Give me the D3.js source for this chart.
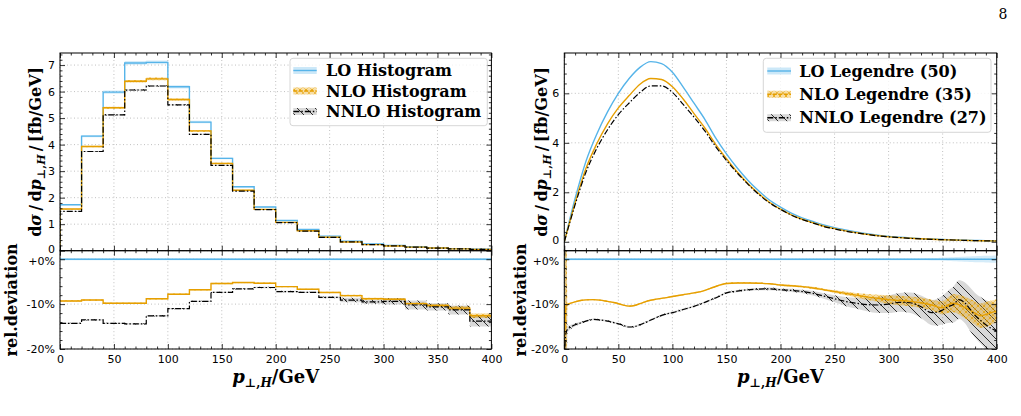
<!DOCTYPE html>
<html>
<head>
<meta charset="utf-8">
<script src="https://cdn.jsdelivr.net/npm/d3@7"></script>
<style>
  body { margin: 0; background: #fff; }
  svg text { font-family: "DejaVu Sans", sans-serif; }
  .tick text { font-family: "DejaVu Sans", sans-serif; font-size: 11px; fill: #000; }
  .lab { font-family: "DejaVu Serif", serif; font-weight: bold; font-size: 16px; }
  .leg { font-family: "DejaVu Serif", serif; font-weight: bold; font-size: 16px; }
</style>
</head>
<body>
<svg id="fig" width="1021" height="416"></svg>
<script>
(function(){

  // ---- histogram data (left) ----
  const binEdges = [0, 20, 40, 60, 80, 100, 120, 140, 160, 180, 200, 220, 240, 260, 280, 300, 320, 340, 360, 380, 400];
  const loHist   = [1.73, 4.32, 5.98, 7.08, 7.10, 6.18, 4.85, 3.48, 2.41, 1.65, 1.14, 0.80, 0.55, 0.36, 0.25, 0.20, 0.15, 0.11, 0.08, 0.055];
  const nloHist  = [1.57, 3.93, 5.39, 6.39, 6.48, 5.70, 4.52, 3.29, 2.28, 1.56, 1.07, 0.75, 0.51, 0.33, 0.23, 0.18, 0.135, 0.10, 0.07, 0.048];
  const nnloHist = [1.48, 3.74, 5.12, 6.06, 6.21, 5.50, 4.39, 3.22, 2.25, 1.55, 1.06, 0.74, 0.50, 0.33, 0.23, 0.18, 0.135, 0.098, 0.071, 0.047];
  // relative deviation to LO, percent
  const nloHistDev  = [-9.3, -9.1, -9.8, -9.8, -8.8, -7.8, -6.8, -5.4, -5.2, -5.35, -6.1, -6.7, -7.4, -8.1, -8.8, -8.9, -9.9, -10.3, -10.9, -12.6];
  const nnloHistDev = [-14.3, -13.5, -14.3, -14.4, -12.6, -11.0, -9.4, -7.4, -6.6, -6.3, -7.2, -7.4, -8.5, -9.1, -9.5, -9.4, -10.2, -10.6, -11.3, -13.8];
  // band half widths, percent
  const loHistErr   = [0.2, 0.2, 0.2, 0.2, 0.2, 0.2, 0.2, 0.2, 0.2, 0.2, 0.2, 0.2, 0.2, 0.2, 0.2, 0.2, 0.2, 0.2, 0.2, 0.25];
  const nloHistErr  = [0.15, 0.15, 0.15, 0.15, 0.15, 0.15, 0.15, 0.15, 0.15, 0.15, 0.15, 0.15, 0.15, 0.2, 0.2, 0.25, 0.25, 0.3, 0.4, 0.5];
  const nnloHistErr = [0.15, 0.15, 0.15, 0.15, 0.15, 0.15, 0.15, 0.15, 0.15, 0.15, 0.15, 0.15, 0.2, 0.5, 0.4, 0.7, 1.0, 0.8, 1.0, 1.2];

  // ---- Legendre curves (right) ----
  const legX    = [0, 10, 20, 30, 40, 50, 60, 70, 80, 90, 100, 110, 120, 130, 140, 150, 160, 170, 180, 190, 200, 210, 220, 230, 240, 250, 260, 270, 280, 290, 300, 310, 320, 330, 340, 350, 360, 370, 380, 390, 400];
  const loLeg   = [0, 1.75, 3.25, 4.35, 5.25, 6.0, 6.6, 7.05, 7.28, 7.2, 6.85, 6.25, 5.6, 4.95, 4.2, 3.55, 2.98, 2.48, 2.05, 1.68, 1.4, 1.16, 0.97, 0.82, 0.68, 0.57, 0.48, 0.4, 0.33, 0.27, 0.22, 0.19, 0.16, 0.13, 0.11, 0.095, 0.08, 0.065, 0.055, 0.045, 0.04];
  const nloLeg  = [0, 1.58, 2.96, 3.96, 4.77, 5.41, 5.91, 6.37, 6.6, 6.56, 6.27, 5.77, 5.18, 4.6, 3.94, 3.36, 2.82, 2.35, 1.94, 1.59, 1.32, 1.09, 0.91, 0.77, 0.63, 0.53, 0.44, 0.37, 0.3, 0.25, 0.2, 0.17, 0.145, 0.12, 0.1, 0.085, 0.072, 0.059, 0.049, 0.04, 0.035];
  const nnloLeg = [0, 1.5, 2.81, 3.77, 4.53, 5.14, 5.61, 6.03, 6.3, 6.3, 6.04, 5.55, 5.04, 4.48, 3.85, 3.29, 2.78, 2.32, 1.91, 1.57, 1.31, 1.08, 0.9, 0.76, 0.62, 0.52, 0.43, 0.36, 0.3, 0.24, 0.2, 0.17, 0.14, 0.115, 0.098, 0.084, 0.072, 0.058, 0.048, 0.038, 0.034];

  const devX    = [0, 1.5, 3, 6, 10, 15, 20, 27, 33, 40, 47, 53, 60, 65, 70, 77, 85, 93, 100, 110, 120, 128, 135, 142, 150, 160, 170, 180, 190, 200, 210, 220, 230, 240, 250, 260, 270, 280, 290, 300, 310, 320, 330, 340, 345, 350, 355, 360, 365, 370, 375, 380, 385, 390, 395, 400];
  const nloDev  = [-22, -10.4, -10.1, -9.8, -9.5, -9.2, -9.05, -9.0, -9.1, -9.4, -9.7, -10.1, -10.45, -10.3, -9.9, -9.3, -8.9, -8.6, -8.3, -7.9, -7.5, -7.1, -6.5, -5.9, -5.4, -5.3, -5.3, -5.35, -5.45, -5.75, -5.9, -6.1, -6.4, -6.8, -7.2, -7.6, -8.0, -8.4, -8.7, -9.0, -9.2, -9.4, -9.7, -10.2, -10.6, -10.8, -10.2, -9.8, -10.1, -10.7, -11.3, -12.0, -12.6, -12.3, -11.9, -11.5];
  const nnloDev = [-22, -16.5, -15.6, -15.1, -14.6, -14.2, -13.8, -13.4, -13.5, -13.8, -14.2, -14.6, -15.1, -15.0, -14.6, -13.9, -13.0, -12.3, -11.9, -11.2, -10.5, -9.8, -9.1, -8.4, -7.5, -7.1, -6.8, -6.65, -6.6, -6.8, -6.95, -7.2, -7.6, -8.2, -8.8, -9.4, -9.8, -10.1, -10.2, -10.0, -9.6, -9.7, -10.6, -11.9, -11.8, -11.3, -10.6, -10.1, -9.0, -9.6, -11.0, -12.5, -13.6, -14.6, -15.4, -16.0];
  const loErr   = [0.2, 0.2, 0.2, 0.2, 0.2, 0.2, 0.2, 0.2, 0.2, 0.2, 0.2, 0.2, 0.2, 0.2, 0.2, 0.2, 0.2, 0.2, 0.2, 0.2, 0.2, 0.2, 0.2, 0.2, 0.2, 0.2, 0.2, 0.2, 0.2, 0.2, 0.2, 0.2, 0.2, 0.2, 0.2, 0.2, 0.2, 0.2, 0.2, 0.2, 0.2, 0.22, 0.24, 0.26, 0.3, 0.35, 0.4, 0.45, 0.5, 0.55, 0.6, 0.65, 0.7, 0.75, 0.8, 0.85];
  const nloErr  = [30, 30, 0.2, 0.15, 0.15, 0.15, 0.15, 0.15, 0.15, 0.15, 0.15, 0.15, 0.15, 0.15, 0.15, 0.15, 0.15, 0.15, 0.15, 0.15, 0.15, 0.15, 0.15, 0.15, 0.15, 0.15, 0.15, 0.15, 0.15, 0.2, 0.2, 0.2, 0.25, 0.25, 0.3, 0.4, 0.5, 0.65, 0.8, 1.0, 1.05, 1.1, 1.15, 1.2, 1.35, 1.5, 1.75, 2.0, 2.2, 2.4, 2.5, 2.6, 2.7, 2.8, 2.7, 2.6];
  const nnloErr = [30, 30, 0.7, 0.5, 0.35, 0.25, 0.2, 0.2, 0.2, 0.2, 0.2, 0.2, 0.2, 0.2, 0.2, 0.2, 0.2, 0.2, 0.2, 0.2, 0.2, 0.2, 0.2, 0.2, 0.2, 0.25, 0.25, 0.25, 0.3, 0.3, 0.35, 0.4, 0.5, 0.6, 0.8, 1.0, 1.2, 1.5, 1.8, 2.0, 2.1, 2.3, 2.5, 2.8, 3.0, 3.2, 3.6, 4.0, 4.3, 4.5, 4.8, 5.0, 5.2, 5.5, 5.8, 6.0];

  const legendLeft  = ["LO Histogram", "NLO Histogram", "NNLO Histogram"];
  const legendRight = ["LO Legendre (50)", "NLO Legendre (35)", "NNLO Legendre (27)"];

  const xTicks = [0, 50, 100, 150, 200, 250, 300, 350, 400];
  const colLO = "#56B4E9", colNLO = "#E69F00", colNNLO = "#000000";

  const svg = d3.select("#fig");
  const defs = svg.append("defs");

  // hatch patterns
  const pN = defs.append("pattern").attr("id", "hNLO").attr("patternUnits", "userSpaceOnUse")
    .attr("width", 6).attr("height", 6);
  pN.append("rect").attr("width", 6).attr("height", 6).attr("fill", colNLO).attr("fill-opacity", 0.35);
  pN.append("path").attr("d", "M0,6L6,0M-1,1L1,-1M5,7L7,5M0,0L6,6M-1,5L1,7M5,-1L7,1")
    .attr("stroke", colNLO).attr("stroke-width", 0.8).attr("stroke-dasharray", "2,1.2");
  const pNN = defs.append("pattern").attr("id", "hNNLO").attr("patternUnits", "userSpaceOnUse")
    .attr("width", 9).attr("height", 9);
  pNN.append("rect").attr("width", 9).attr("height", 9).attr("fill", "#000").attr("fill-opacity", 0.15);
  pNN.append("path").attr("d", "M0,0L9,9M-1,8L1,10M8,-1L10,1")
    .attr("stroke", "#000").attr("stroke-width", 0.8);

  const yTop = 53, yMid = 250.7, yBot = 349;
  const yRatio = d3.scaleLinear().domain([-20, 1.9]).range([yBot, yMid]);

  function frameAndTicks(g, x, y, yr, yMajor, yMinor) {
    const xMinor = d3.range(0, 401, 10).filter(v => v % 50 !== 0);
    const rMinor = d3.range(-20, 1.9, 2).filter(v => v % 10 !== 0);
    const clean = s => { s.select(".domain").remove(); s.attr("font-size", null).attr("font-family", null); s.selectAll("line").attr("stroke", "#000").attr("stroke-width", 0.8); };
    const x0 = x.range()[0], x1 = x.range()[1];

    // main panel
    g.append("g").attr("transform", `translate(0,${yTop})`).call(d3.axisTop(x).tickValues(xTicks).tickSize(-5).tickFormat("")).call(clean);
    g.append("g").attr("transform", `translate(0,${yTop})`).call(d3.axisTop(x).tickValues(xMinor).tickSize(-2.5).tickFormat("")).call(clean);
    g.append("g").attr("transform", `translate(0,${yMid})`).call(d3.axisBottom(x).tickValues(xTicks).tickSize(-5).tickFormat("")).call(clean);
    g.append("g").attr("transform", `translate(0,${yMid})`).call(d3.axisBottom(x).tickValues(xMinor).tickSize(-2.5).tickFormat("")).call(clean);
    g.append("g").attr("transform", `translate(${x0},0)`).call(d3.axisLeft(y).tickValues(yMajor).tickSize(-5).tickPadding(5)).call(clean)
      .selectAll(".tick text").filter(d => d === 0).attr("dy", "0.2em");
    g.append("g").attr("transform", `translate(${x0},0)`).call(d3.axisLeft(y).tickValues(yMinor).tickSize(-2.5).tickFormat("")).call(clean);
    g.append("g").attr("transform", `translate(${x1},0)`).call(d3.axisRight(y).tickValues(yMajor).tickSize(-5).tickFormat("")).call(clean);
    g.append("g").attr("transform", `translate(${x1},0)`).call(d3.axisRight(y).tickValues(yMinor).tickSize(-2.5).tickFormat("")).call(clean);

    // ratio panel
    g.append("g").attr("transform", `translate(0,${yMid})`).call(d3.axisTop(x).tickValues(xTicks).tickSize(-5).tickFormat("")).call(clean);
    g.append("g").attr("transform", `translate(0,${yMid})`).call(d3.axisTop(x).tickValues(xMinor).tickSize(-2.5).tickFormat("")).call(clean);
    g.append("g").attr("transform", `translate(0,${yBot})`).call(d3.axisBottom(x).tickValues(xTicks).tickSize(-5).tickPadding(6)).call(clean);
    g.append("g").attr("transform", `translate(0,${yBot})`).call(d3.axisBottom(x).tickValues(xMinor).tickSize(-2.5).tickFormat("")).call(clean);
    g.append("g").attr("transform", `translate(${x0},0)`).call(d3.axisLeft(yr).tickValues([-20, -10, 0]).tickSize(-5).tickPadding(5)
      .tickFormat(d => (d >= 0 ? "+" : "") + d + "%")).call(clean)
      .selectAll(".tick text").filter(d => d === 0).attr("dy", "0.45em");
    g.append("g").attr("transform", `translate(${x0},0)`).call(d3.axisLeft(yr).tickValues(rMinor).tickSize(-2.5).tickFormat("")).call(clean);
    g.append("g").attr("transform", `translate(${x1},0)`).call(d3.axisRight(yr).tickValues([-20, -10, 0]).tickSize(-5).tickFormat("")).call(clean);
    g.append("g").attr("transform", `translate(${x1},0)`).call(d3.axisRight(yr).tickValues(rMinor).tickSize(-2.5).tickFormat("")).call(clean);

    g.append("rect").attr("x", x0).attr("y", yTop).attr("width", x1 - x0).attr("height", yMid - yTop)
      .attr("fill", "none").attr("stroke", "#000").attr("stroke-width", 1);
    g.append("rect").attr("x", x0).attr("y", yMid).attr("width", x1 - x0).attr("height", yBot - yMid)
      .attr("fill", "none").attr("stroke", "#000").attr("stroke-width", 1);
  }

  function grid(g, x, y, yMajor) {
    const x0 = x.range()[0], x1 = x.range()[1];
    const gg = g.append("g").attr("stroke", "#b0b0b0").attr("stroke-width", 0.8).attr("stroke-dasharray", "1,2.5");
    xTicks.forEach(v => {
      gg.append("line").attr("x1", x(v)).attr("x2", x(v)).attr("y1", yTop).attr("y2", yMid);
      gg.append("line").attr("x1", x(v)).attr("x2", x(v)).attr("y1", yMid).attr("y2", yBot);
    });
    yMajor.forEach(v => gg.append("line").attr("x1", x0).attr("x2", x1).attr("y1", y(v)).attr("y2", y(v)));
    [-20, -10, 0].forEach(v => gg.append("line").attr("x1", x0).attr("x2", x1).attr("y1", yRatio(v)).attr("y2", yRatio(v)));
  }

  function clip(id, x, y0, y1) {
    defs.append("clipPath").attr("id", id).append("rect")
      .attr("x", x.range()[0]).attr("y", y0).attr("width", x.range()[1] - x.range()[0]).attr("height", y1 - y0);
  }

  function yLabels(g, xMain, xRatio) {
    const t = g.append("text").attr("class", "lab").attr("text-anchor", "middle")
      .attr("transform", `translate(${xMain},${(yTop + yMid) / 2}) rotate(-90)`).attr("dy", "0.35em");
    t.append("tspan").text("d");
    t.append("tspan").attr("font-style", "italic").text("σ");
    t.append("tspan").text("\u2009/\u2009d");
    t.append("tspan").attr("font-style", "italic").text("p");
    t.append("tspan").attr("font-size", "11px").attr("dy", 4).text("⊥,");
    t.append("tspan").attr("font-size", "11px").attr("font-style", "italic").text("H");
    t.append("tspan").attr("dy", -4).text("\u2009/\u2009[fb/GeV]");
    g.append("text").attr("class", "lab").attr("text-anchor", "middle")
      .attr("transform", `translate(${xRatio},${(yMid + yBot) / 2}) rotate(-90)`).attr("dy", "0.35em")
      .text("rel.deviation");
  }

  function xLabel(g, x) {
    const cx = (x.range()[0] + x.range()[1]) / 2;
    const t = g.append("text").attr("class", "lab").attr("text-anchor", "middle")
      .attr("x", cx).attr("y", 383).style("font-size", "18px");
    t.append("tspan").attr("font-style", "italic").text("p");
    t.append("tspan").attr("font-size", "12px").attr("dy", 4).text("⊥,");
    t.append("tspan").attr("font-size", "12px").attr("font-style", "italic").text("H");
    t.append("tspan").attr("dy", -4).text("/GeV");
  }

  function legend(g, x, y, w, h, hx, hw, tx, rows, labels) {
    g.append("rect").attr("x", x).attr("y", y).attr("width", w).attr("height", h).attr("rx", 3)
      .attr("fill", "#fff").attr("fill-opacity", 0.8).attr("stroke", "#cccccc").attr("stroke-width", 0.8);
    const fills = [colLO, "url(#hNLO)", "url(#hNNLO)"];
    const op = [0.3, 1, 1];
    const strokes = [colLO, colNLO, colNNLO];
    const dashes = [null, "4,1.5", "6,2,1.5,2"];
    labels.forEach((lab, i) => {
      const cy = rows[i];
      g.append("rect").attr("x", hx).attr("y", cy - 3.5).attr("width", hw).attr("height", 7)
        .attr("fill", fills[i]).attr("fill-opacity", op[i]);
      g.append("line").attr("x1", hx).attr("x2", hx + hw).attr("y1", cy).attr("y2", cy)
        .attr("stroke", strokes[i]).attr("stroke-width", 1.4).attr("stroke-dasharray", dashes[i]);
      g.append("text").attr("class", "leg").attr("x", tx).attr("y", cy + 5.5).text(lab);
    });
  }

  // ================= LEFT: histograms =================
  {
    const x = d3.scaleLinear().domain([0, 400]).range([60, 491.4]);
    const y = d3.scaleLinear().domain([0, 7.455]).range([yMid, yTop]);
    const yMajor = [0, 1, 2, 3, 4, 5, 6, 7];
    const yMinor = d3.range(0, 7.45, 0.2).filter(v => Math.abs(v - Math.round(v)) > 1e-6);
    const g = svg.append("g");
    clip("cL1", x, yTop, yMid); clip("cL2", x, yMid, yBot);
    grid(g, x, y, yMajor);

    const pts = vals => vals.map((v, i) => [binEdges[i], v]).concat([[400, vals[vals.length - 1]]]);
    const step = d3.line().curve(d3.curveStepAfter).x(d => x(d[0])).y(d => y(d[1]));
    const stepR = d3.line().curve(d3.curveStepAfter).x(d => x(d[0])).y(d => yRatio(d[1]));
    const bandPts = (vals, err) => vals.map((v, i) => [binEdges[i], v, err[i]]).concat([[400, vals[vals.length - 1], err[err.length - 1]]]);
    const areaM = d3.area().curve(d3.curveStepAfter).x(d => x(d[0])).y0(d => y(d[1] * (1 - d[2] / 100))).y1(d => y(d[1] * (1 + d[2] / 100)));
    const areaR = d3.area().curve(d3.curveStepAfter).x(d => x(d[0])).y0(d => yRatio(d[1] - d[2])).y1(d => yRatio(d[1] + d[2]));

    const m = g.append("g").attr("clip-path", "url(#cL1)");
    m.append("path").attr("d", areaM(bandPts(loHist, loHistErr.map(e => e * 5)))).attr("fill", colLO).attr("fill-opacity", 0.25);
    m.append("path").attr("d", areaM(bandPts(nloHist, nloHistErr.map(e => e * 5)))).attr("fill", "url(#hNLO)");
    m.append("path").attr("d", areaM(bandPts(nnloHist, nnloHistErr.map(e => e * 3)))).attr("fill", "url(#hNNLO)");
    m.append("path").attr("d", step([[0, 0]].concat(pts(loHist)))).attr("fill", "none").attr("stroke", colLO).attr("stroke-width", 1.4);
    m.append("path").attr("d", step([[0, 0]].concat(pts(nloHist)))).attr("fill", "none").attr("stroke", colNLO).attr("stroke-width", 1.4);
    m.append("path").attr("d", step([[0, 0]].concat(pts(nnloHist)))).attr("fill", "none").attr("stroke", colNNLO).attr("stroke-width", 1.2).attr("stroke-dasharray", "6,2,1.5,2");

    const r = g.append("g").attr("clip-path", "url(#cL2)");
    r.append("path").attr("d", areaR(bandPts(loHist.map(() => 0), loHistErr))).attr("fill", colLO).attr("fill-opacity", 0.25);
    r.append("path").attr("d", areaR(bandPts(nloHistDev, nloHistErr))).attr("fill", "url(#hNLO)");
    r.append("path").attr("d", areaR(bandPts(nnloHistDev, nnloHistErr))).attr("fill", "url(#hNNLO)");
    r.append("path").attr("d", stepR(pts(loHist.map(() => 0)))).attr("fill", "none").attr("stroke", colLO).attr("stroke-width", 1.4);
    r.append("path").attr("d", stepR(pts(nloHistDev))).attr("fill", "none").attr("stroke", colNLO).attr("stroke-width", 1.4);
    r.append("path").attr("d", stepR(pts(nnloHistDev))).attr("fill", "none").attr("stroke", colNNLO).attr("stroke-width", 1.2).attr("stroke-dasharray", "6,2,1.5,2");

    frameAndTicks(g, x, y, yRatio, yMajor, yMinor);
    yLabels(g, 35, 11.7);
    xLabel(g, x);
    legend(g, 290, 58.3, 197.3, 67.4, 293.3, 23.4, 326, [70.5, 91, 111.5], legendLeft);
  }

  // ================= RIGHT: Legendre =================
  {
    const x = d3.scaleLinear().domain([0, 400]).range([564.3, 996.7]);
    const y = d3.scaleLinear().domain([-0.36, 7.63]).range([yMid, yTop]);
    const yMajor = [0, 2, 4, 6];
    const yMinor = d3.range(0, 7.6, 0.4).filter(v => Math.abs(v / 2 - Math.round(v / 2)) > 1e-6);
    const g = svg.append("g");
    clip("cR1", x, yTop, yMid); clip("cR2", x, yMid, yBot);
    grid(g, x, y, yMajor);

    const line = d3.line().curve(d3.curveMonotoneX).x((d, i) => x(legX[i])).y(d => y(d));
    const lineR = d3.line().curve(d3.curveMonotoneX).x((d, i) => x(devX[i])).y(d => yRatio(d));
    const areaR = (vals, err) => d3.area().curve(d3.curveMonotoneX).x((d, i) => x(devX[i]))
      .y0((d, i) => yRatio(vals[i] - err[i])).y1((d, i) => yRatio(vals[i] + err[i]))(vals);

    const m = g.append("g").attr("clip-path", "url(#cR1)");
    m.append("path").attr("d", line(loLeg)).attr("fill", "none").attr("stroke", colLO).attr("stroke-width", 1.4);
    m.append("path").attr("d", line(nloLeg)).attr("fill", "none").attr("stroke", colNLO).attr("stroke-width", 1.4);
    m.append("path").attr("d", line(nnloLeg)).attr("fill", "none").attr("stroke", colNNLO).attr("stroke-width", 1.2).attr("stroke-dasharray", "6,2,1.5,2");

    const zeros = devX.map(() => 0);
    const r = g.append("g").attr("clip-path", "url(#cR2)");
    r.append("path").attr("d", areaR(zeros, loErr)).attr("fill", colLO).attr("fill-opacity", 0.25);
    r.append("path").attr("d", areaR(nnloDev, nnloErr)).attr("fill", "url(#hNNLO)");
    r.append("path").attr("d", areaR(nloDev, nloErr)).attr("fill", "url(#hNLO)");
    r.append("path").attr("d", lineR(zeros)).attr("fill", "none").attr("stroke", colLO).attr("stroke-width", 1.4);
    r.append("path").attr("d", lineR(nloDev)).attr("fill", "none").attr("stroke", colNLO).attr("stroke-width", 1.4);
    r.append("path").attr("d", lineR(nnloDev)).attr("fill", "none").attr("stroke", colNNLO).attr("stroke-width", 1.2).attr("stroke-dasharray", "6,2,1.5,2");

    frameAndTicks(g, x, y, yRatio, yMajor, yMinor);
    yLabels(g, 541.7, 520);
    xLabel(g, x);
    legend(g, 763.3, 58.3, 227.7, 74, 767.3, 23.7, 799.3, [71, 94.3, 117.7], legendRight);
  }

  svg.append("text").attr("x", 1003).attr("y", 19).attr("text-anchor", "middle")
    .style("font-family", "DejaVu Serif, serif").style("font-size", "14px").text("8");

})();
</script>
</body>
</html>
